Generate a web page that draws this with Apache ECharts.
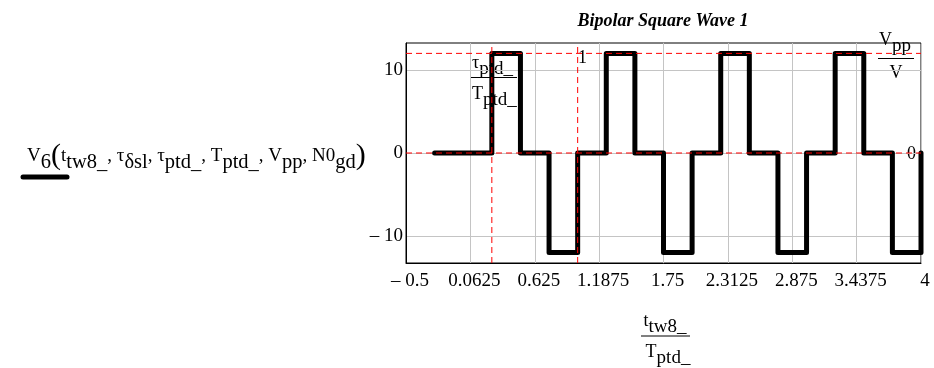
<!DOCTYPE html>
<html><head><meta charset="utf-8">
<script src="https://cdn.jsdelivr.net/npm/echarts@6/dist/echarts.min.js"></script>
<style>html,body{margin:0;padding:0;background:#fff}#c{width:934px;height:368px}</style>
</head><body><div id="c"></div>
<script>
// ---- data ----
const waveT = [-0.25,0.25,0.25,0.5,0.5,0.75,0.75,1,1,1.25,1.25,1.5,1.5,1.75,1.75,2,2,2.25,2.25,2.5,2.5,2.75,2.75,3,3,3.25,3.25,3.5,3.5,3.75,3.75,4,4];
const waveV = [0,0,12,12,0,0,-12,-12,0,0,12,12,0,0,-12,-12,0,0,12,12,0,0,-12,-12,0,0,12,12,0,0,-12,-12,0];
const xTicks = [-0.5,0.0625,0.625,1.1875,1.75,2.3125,2.875,3.4375,4];
const yTicks = [-10,0,10];
const xRange = [-0.5, 4];
const yRange = [-13.25, 13.25];
const vMarkers = [0.25, 1];
const hMarkers = [12, 0];
const titleText = 'Bipolar Square Wave 1';

const FF = '"Liberation Serif", "Times New Roman", serif';
const fmt = v => v < 0 ? '\u2013 ' + Math.abs(v) : String(v);

const rich = {
  m: {fontFamily: FF, fontSize: 18, color: '#000'},
  s: {fontFamily: FF, fontSize: 19, color: '#000', padding: [13,0,0,0]},
  p: {fontFamily: FF, fontSize: 28, color: '#000'}
};
const richBig = {
  m: {fontFamily: FF, fontSize: 19, color: '#000'},
  s: {fontFamily: FF, fontSize: 20.5, color: '#000', padding: [13,0,0,0]},
  p: {fontFamily: FF, fontSize: 30, color: '#000'}
};

const markerSeries = (pts) => ({
  type: 'line', data: pts, showSymbol: false, silent: true, z: 4,
  lineStyle: {color: '#ff0000', width: 1, type: [6, 4]},
  itemStyle: {color: '#ff0000'}
});

const chart = echarts.init(document.getElementById('c'), null, {renderer: 'canvas'});
chart.setOption({
  backgroundColor: '#fff',
  animation: false,
  grid: {left: 406, right: 13, top: 43, bottom: 105, show: true, borderColor: '#000', borderWidth: 1},
  xAxis: {
    type: 'value', min: xRange[0], max: xRange[1],
    axisLine: {show: true, onZero: false, lineStyle: {color: '#000', width: 1}},
    axisTick: {show: false, customValues: xTicks},
    axisLabel: {customValues: xTicks, formatter: fmt, color: '#000', fontFamily: FF, fontSize: 19, margin: 9, padding: [0,0,0,8]},
    splitLine: {show: true, lineStyle: {color: '#c4c4c4', width: 1}}
  },
  yAxis: {
    type: 'value', min: yRange[0], max: yRange[1],
    axisLine: {show: true, onZero: false, lineStyle: {color: '#000', width: 1}},
    axisTick: {show: false, customValues: yTicks},
    axisLabel: {customValues: yTicks, formatter: fmt, color: '#000', fontFamily: FF, fontSize: 19, margin: 3},
    splitLine: {show: true, lineStyle: {color: '#c4c4c4', width: 1}}
  },
  series: [{
    type: 'line',
    data: waveT.map((t, i) => [t, waveV[i]]),
    showSymbol: false,
    lineStyle: {color: '#000', width: 5, cap: 'round', join: 'round'},
    itemStyle: {color: '#000'},
    z: 2
  }].concat(
    vMarkers.map(v => markerSeries([[v, yRange[0]], [v, yRange[1]]])),
    hMarkers.map(h => markerSeries([[xRange[0], h], [xRange[1], h]]))
  ),
  graphic: [
    {type: 'text', x: 663, y: 21, style: {text: titleText, font: 'italic bold 18px ' + FF, fill: '#000', align: 'center', verticalAlign: 'middle'}},
    // left expression
    {type: 'text', x: 27, y: 156, style: {
      text: '{m|V}{s|6}{p|(}{m|t}{s|tw8_}{m|, τ}{s|δsl}{m|, τ}{s|ptd_}{m|, T}{s|ptd_}{m|, V}{s|pp}{m|, N0}{s|gd}{p|)}',
      rich: richBig, verticalAlign: 'middle', align: 'left'}},
    {type: 'line', shape: {x1: 23, y1: 177, x2: 67, y2: 177}, style: {stroke: '#000', lineWidth: 5, lineCap: 'round'}},
    // x-axis title fraction
    {type: 'text', x: 665, y: 321, style: {text: '{m|t}{s|tw8_}', rich: rich, align: 'center', verticalAlign: 'middle'}},
    {type: 'line', shape: {x1: 641, y1: 336, x2: 690, y2: 336}, style: {stroke: '#000', lineWidth: 1}},
    {type: 'text', x: 668, y: 352, style: {text: '{m|T}{s|ptd_}', rich: rich, align: 'center', verticalAlign: 'middle'}},
    // marker label tau/T
    {type: 'text', x: 472, y: 63, style: {text: '{m|τ}{s|ptd_}', rich: rich, align: 'left', verticalAlign: 'middle'}},
    {type: 'line', shape: {x1: 470, y1: 77.5, x2: 517, y2: 77.5}, style: {stroke: '#000', lineWidth: 1}},
    {type: 'text', x: 472, y: 94, style: {text: '{m|T}{s|ptd_}', rich: rich, align: 'left', verticalAlign: 'middle'}},
    // marker label 1
    {type: 'text', x: 578, y: 58, style: {text: '1', font: '18px ' + FF, fill: '#000', align: 'left', verticalAlign: 'middle'}},
    // marker label Vpp/V
    {type: 'text', x: 879, y: 40, style: {text: '{m|V}{s|pp}', rich: rich, align: 'left', verticalAlign: 'middle'}},
    {type: 'line', shape: {x1: 878, y1: 58.5, x2: 914, y2: 58.5}, style: {stroke: '#000', lineWidth: 1}},
    {type: 'text', x: 896, y: 73, style: {text: 'V', font: '18px ' + FF, fill: '#000', align: 'center', verticalAlign: 'middle'}},
    // marker label 0
    {type: 'text', x: 907, y: 154, style: {text: '0', font: '18px ' + FF, fill: '#000', align: 'left', verticalAlign: 'middle'}}
  ]
});
</script>
</body></html>
